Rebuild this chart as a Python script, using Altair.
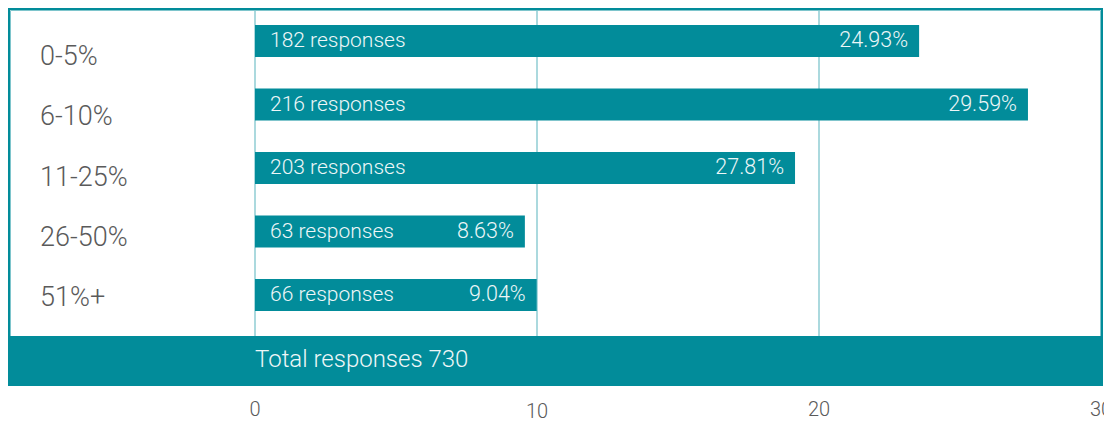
import altair as alt
import pandas as pd

# ---- data ----
categories = ["0-5%", "6-10%", "11-25%", "26-50%", "51%+"]
responses = [182, 216, 203, 63, 66]
percents = [24.93, 29.59, 27.81, 8.63, 9.04]
bar_lengths = [23.55, 27.41, 19.15, 9.57, 9.99]   # bar ends as read on the 0-30 axis
total_responses = 730
tick_values = [0, 10, 20, 30]
grid_values = [0, 10, 20]

TEAL = "#028C9A"
LIGHT = "#7EC5CC"
GREY = "#5A5A5A"
TXT = "#EEF7F8"
FONT = "Roboto"

df = pd.DataFrame({
    "cat": categories,
    "n": responses,
    "pct": percents,
    "len": bar_lengths,
})
df["resp_label"] = [f"{n} responses" for n in responses]
df["pct_label"] = [f"{p:.2f}%" for p in percents]

ticks_df = pd.DataFrame({"v": tick_values})
grid_df = pd.DataFrame({"v": grid_values})
total_df = pd.DataFrame({"v": [0], "label": [f"Total responses {total_responses}"]})
one = pd.DataFrame({"a": [0]})

xs = alt.Scale(domain=[0, 30], range=[247, 1093])
ys = alt.Scale(type="point", domain=categories, range=[33, 287], padding=0)
ys_lab = alt.Scale(type="point", domain=categories, range=[49, 290], padding=0)

frame_outer = alt.Chart(one).mark_rect(fill=None, stroke=TEAL, strokeWidth=2).encode(
    x=alt.value(1), x2=alt.value(1094), y=alt.value(1), y2=alt.value(330))
frame_inner = alt.Chart(one).mark_rect(fill=None, stroke=LIGHT, strokeWidth=1).encode(
    x=alt.value(2.5), x2=alt.value(1092.5), y=alt.value(2.5), y2=alt.value(330))

grid = alt.Chart(grid_df).mark_rule(color=LIGHT, strokeWidth=1.3).encode(
    x=alt.X("v:Q", scale=xs, axis=None),
    y=alt.value(3), y2=alt.value(328))

bars = alt.Chart(df).mark_bar(color=TEAL, height=32).encode(
    x=alt.X("len:Q", scale=xs, axis=None),
    x2=alt.datum(0),
    y=alt.Y("cat:N", scale=ys, axis=None, sort=categories))

resp_text = alt.Chart(df).transform_calculate(zero="0").mark_text(
    align="left", baseline="middle", dx=15, fontSize=21, font=FONT,
    fontWeight=300, color=TXT).encode(
    x=alt.X("zero:Q", scale=xs, axis=None),
    y=alt.Y("cat:N", scale=ys, axis=None, sort=categories),
    text="resp_label:N")

pct_text = alt.Chart(df).mark_text(
    align="right", baseline="middle", dx=-11, fontSize=21.5, font=FONT,
    fontWeight=300, color=TXT).encode(
    x=alt.X("len:Q", scale=xs, axis=None),
    y=alt.Y("cat:N", scale=ys, axis=None, sort=categories),
    text="pct_label:N")

cat_labels = alt.Chart(df).mark_text(
    align="left", baseline="middle", fontSize=27, font=FONT, fontWeight=300,
    color=GREY).encode(
    x=alt.value(32),
    y=alt.Y("cat:N", scale=ys_lab, axis=None, sort=categories),
    text="cat:N")

total_band = alt.Chart(one).mark_rect(color=TEAL).encode(
    x=alt.value(0), x2=alt.value(1095), y=alt.value(328), y2=alt.value(378))

total_text = alt.Chart(total_df).mark_text(
    align="left", baseline="middle", fontSize=24, font=FONT, fontWeight=300,
    color=TXT).encode(
    x=alt.X("v:Q", scale=xs, axis=None),
    y=alt.value(352),
    text="label:N")

tick_text = alt.Chart(ticks_df).transform_calculate(
    ypx="datum.v == 10 ? 410 : 408").mark_text(
    align="center", baseline="alphabetic", fontSize=20, font=FONT, fontWeight=300,
    color=GREY).encode(
    x=alt.X("v:Q", scale=xs, axis=None),
    y=alt.Y("ypx:Q", scale=None, axis=None),
    text="v:Q")

chart = alt.layer(
    frame_outer, frame_inner, grid, bars, resp_text, pct_text, cat_labels,
    total_band, total_text, tick_text
).resolve_scale(y="independent").properties(
    width=1096, height=414, padding=0, autosize=alt.AutoSizeParams(type="none")
).configure_view(stroke=None)

chart.save("out.html", embed_options={"renderer": "svg", "actions": False})
